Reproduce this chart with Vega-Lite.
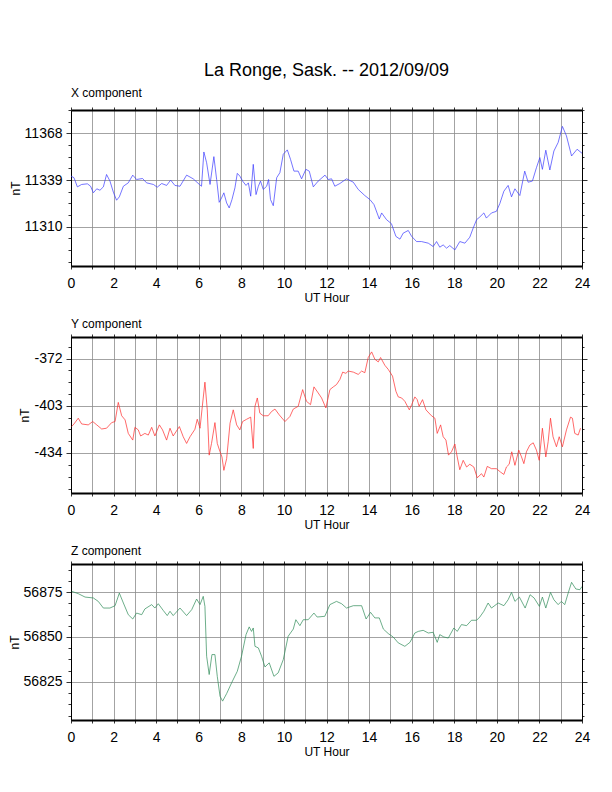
{
  "$schema": "https://vega.github.io/schema/vega-lite/v6.json",
  "title": {"text": "La Ronge, Sask. -- 2012/09/09", "fontSize": 18, "fontWeight": "normal", "anchor": "middle", "frame": "group", "offset": 7, "color": "black"},
  "padding": {"left": 7, "top": 61, "right": 10, "bottom": 10},
  "config": {
    "font": "Liberation Sans",
    "view": {"stroke": "black", "strokeWidth": 1},
    "axis": {
      "labelColor": "black", "labelFontSize": 14, "labelFlush": false, "labelOverlap": false,
      "titleFontWeight": "normal", "titleFontSize": 12, "titleColor": "black",
      "domainColor": "black", "tickColor": "#333333", "gridColor": "#8c8c8c", "gridWidth": 0.8
    },
    "title": {"fontWeight": "normal", "color": "black"}
  },
  "datasets": {
    "bx": [
      {"h":0,"nT":11341.5},{"h":0.14,"nT":11340.5},{"h":0.3,"nT":11334.8},{"h":0.5,"nT":11336.3},{"h":0.77,"nT":11336.7},{"h":0.92,"nT":11335.2},{"h":1.05,"nT":11331.1},{"h":1.21,"nT":11333.6},{"h":1.36,"nT":11332.7},{"h":1.52,"nT":11334.8},{"h":1.67,"nT":11342.5},{"h":1.83,"nT":11338.4},{"h":1.99,"nT":11331.5},{"h":2.14,"nT":11326.5},{"h":2.27,"nT":11328.6},{"h":2.46,"nT":11335.2},{"h":2.69,"nT":11337.3},{"h":2.9,"nT":11342.1},{"h":3.08,"nT":11339.4},{"h":3.36,"nT":11340.0},{"h":3.55,"nT":11337.3},{"h":3.87,"nT":11336.3},{"h":4.05,"nT":11334.6},{"h":4.26,"nT":11336.9},{"h":4.49,"nT":11335.7},{"h":4.68,"nT":11339.0},{"h":4.88,"nT":11335.7},{"h":5.12,"nT":11335.2},{"h":5.43,"nT":11342.1},{"h":5.74,"nT":11339.8},{"h":6.03,"nT":11336.3},{"h":6.13,"nT":11335.2},{"h":6.24,"nT":11356.5},{"h":6.37,"nT":11349.8},{"h":6.53,"nT":11336.3},{"h":6.71,"nT":11353.6},{"h":6.84,"nT":11339.4},{"h":6.96,"nT":11325.2},{"h":7.07,"nT":11327.9},{"h":7.18,"nT":11331.1},{"h":7.31,"nT":11324.8},{"h":7.43,"nT":11321.7},{"h":7.56,"nT":11326.9},{"h":7.7,"nT":11334.2},{"h":7.81,"nT":11343.2},{"h":7.93,"nT":11341.5},{"h":8.06,"nT":11338.4},{"h":8.22,"nT":11335.7},{"h":8.33,"nT":11337.3},{"h":8.44,"nT":11329.0},{"h":8.56,"nT":11348.8},{"h":8.69,"nT":11330.0},{"h":8.8,"nT":11335.2},{"h":8.9,"nT":11338.4},{"h":9.03,"nT":11333.2},{"h":9.19,"nT":11335.2},{"h":9.28,"nT":11339.4},{"h":9.37,"nT":11326.9},{"h":9.5,"nT":11323.1},{"h":9.66,"nT":11340.5},{"h":9.81,"nT":11343.6},{"h":9.97,"nT":11355.1},{"h":10.16,"nT":11357.8},{"h":10.31,"nT":11351.9},{"h":10.47,"nT":11344.6},{"h":10.67,"nT":11344.6},{"h":10.83,"nT":11339.8},{"h":11.03,"nT":11345.7},{"h":11.19,"nT":11344.6},{"h":11.38,"nT":11334.8},{"h":11.61,"nT":11338.4},{"h":11.93,"nT":11342.1},{"h":12.08,"nT":11339.4},{"h":12.24,"nT":11339.8},{"h":12.39,"nT":11335.2},{"h":12.63,"nT":11336.9},{"h":12.94,"nT":11339.8},{"h":13.26,"nT":11337.7},{"h":13.49,"nT":11333.2},{"h":13.8,"nT":11329.4},{"h":14.04,"nT":11326.9},{"h":14.23,"nT":11323.8},{"h":14.48,"nT":11314.8},{"h":14.59,"nT":11318.6},{"h":14.82,"nT":11314.4},{"h":15.05,"nT":11311.9},{"h":15.26,"nT":11304.0},{"h":15.45,"nT":11302.3},{"h":15.6,"nT":11306.0},{"h":15.84,"nT":11307.7},{"h":16.0,"nT":11304.0},{"h":16.23,"nT":11300.8},{"h":16.46,"nT":11300.8},{"h":16.78,"nT":11299.8},{"h":17.01,"nT":11297.7},{"h":17.17,"nT":11300.8},{"h":17.32,"nT":11297.3},{"h":17.48,"nT":11298.7},{"h":17.64,"nT":11296.7},{"h":17.79,"nT":11298.3},{"h":18.03,"nT":11295.6},{"h":18.26,"nT":11300.8},{"h":18.5,"nT":11299.8},{"h":18.73,"nT":11303.5},{"h":18.89,"nT":11309.2},{"h":19.05,"nT":11314.4},{"h":19.2,"nT":11316.1},{"h":19.39,"nT":11318.6},{"h":19.51,"nT":11315.4},{"h":19.75,"nT":11318.6},{"h":19.98,"nT":11319.6},{"h":20.14,"nT":11324.4},{"h":20.33,"nT":11332.1},{"h":20.53,"nT":11335.7},{"h":20.69,"nT":11328.6},{"h":20.85,"nT":11333.6},{"h":21.08,"nT":11329.4},{"h":21.31,"nT":11344.6},{"h":21.47,"nT":11337.7},{"h":21.67,"nT":11338.4},{"h":21.86,"nT":11346.7},{"h":22.02,"nT":11353.0},{"h":22.14,"nT":11345.7},{"h":22.3,"nT":11357.6},{"h":22.49,"nT":11345.3},{"h":22.68,"nT":11357.1},{"h":22.88,"nT":11362.4},{"h":23.08,"nT":11372.4},{"h":23.27,"nT":11366.5},{"h":23.51,"nT":11354.0},{"h":23.77,"nT":11358.2},{"h":24,"nT":11355.7}
    ],
    "by": [
      {"h":0.03,"nT":-416.7},{"h":0.14,"nT":-415.0},{"h":0.34,"nT":-411.2},{"h":0.5,"nT":-415.0},{"h":0.81,"nT":-415.6},{"h":1.02,"nT":-413.4},{"h":1.21,"nT":-415.6},{"h":1.44,"nT":-418.3},{"h":1.67,"nT":-417.8},{"h":1.91,"nT":-414.1},{"h":2.07,"nT":-413.4},{"h":2.22,"nT":-400.8},{"h":2.38,"nT":-409.6},{"h":2.54,"nT":-412.3},{"h":2.69,"nT":-421.2},{"h":2.9,"nT":-425.6},{"h":3.0,"nT":-417.2},{"h":3.16,"nT":-418.9},{"h":3.27,"nT":-422.9},{"h":3.47,"nT":-421.2},{"h":3.63,"nT":-422.3},{"h":3.79,"nT":-417.2},{"h":3.94,"nT":-422.9},{"h":4.15,"nT":-415.6},{"h":4.3,"nT":-418.9},{"h":4.49,"nT":-425.6},{"h":4.65,"nT":-417.8},{"h":4.8,"nT":-422.9},{"h":5.09,"nT":-416.7},{"h":5.27,"nT":-423.4},{"h":5.43,"nT":-427.8},{"h":5.59,"nT":-423.4},{"h":5.82,"nT":-418.5},{"h":5.93,"nT":-411.9},{"h":6.06,"nT":-417.8},{"h":6.15,"nT":-405.7},{"h":6.29,"nT":-387.5},{"h":6.4,"nT":-405.7},{"h":6.49,"nT":-435.5},{"h":6.6,"nT":-427.8},{"h":6.76,"nT":-414.1},{"h":6.87,"nT":-427.8},{"h":7.0,"nT":-433.3},{"h":7.09,"nT":-436.7},{"h":7.18,"nT":-445.5},{"h":7.31,"nT":-437.8},{"h":7.47,"nT":-414.5},{"h":7.62,"nT":-405.7},{"h":7.78,"nT":-415.6},{"h":7.93,"nT":-418.9},{"h":8.06,"nT":-413.4},{"h":8.25,"nT":-411.9},{"h":8.44,"nT":-410.5},{"h":8.56,"nT":-431.1},{"h":8.64,"nT":-403.4},{"h":8.75,"nT":-397.9},{"h":8.87,"nT":-407.9},{"h":9.03,"nT":-409.6},{"h":9.26,"nT":-409.6},{"h":9.42,"nT":-406.8},{"h":9.58,"nT":-405.2},{"h":9.78,"nT":-409.0},{"h":10.05,"nT":-413.4},{"h":10.28,"nT":-410.1},{"h":10.44,"nT":-405.2},{"h":10.67,"nT":-403.4},{"h":10.88,"nT":-392.4},{"h":11.06,"nT":-400.1},{"h":11.25,"nT":-402.3},{"h":11.41,"nT":-390.6},{"h":11.61,"nT":-394.6},{"h":11.77,"nT":-397.9},{"h":11.97,"nT":-404.5},{"h":12.16,"nT":-392.4},{"h":12.32,"nT":-390.6},{"h":12.47,"nT":-389.1},{"h":12.63,"nT":-385.7},{"h":12.76,"nT":-380.9},{"h":12.91,"nT":-381.7},{"h":13.02,"nT":-380.2},{"h":13.26,"nT":-380.9},{"h":13.49,"nT":-382.4},{"h":13.65,"nT":-380.2},{"h":13.8,"nT":-381.3},{"h":13.96,"nT":-371.3},{"h":14.12,"nT":-367.6},{"h":14.27,"nT":-372.4},{"h":14.43,"nT":-374.2},{"h":14.54,"nT":-371.3},{"h":14.74,"nT":-376.4},{"h":14.9,"nT":-379.1},{"h":15.1,"nT":-383.5},{"h":15.26,"nT":-393.5},{"h":15.37,"nT":-397.2},{"h":15.53,"nT":-397.9},{"h":15.68,"nT":-400.1},{"h":15.89,"nT":-405.7},{"h":16.0,"nT":-402.3},{"h":16.15,"nT":-397.2},{"h":16.26,"nT":-399.0},{"h":16.35,"nT":-403.4},{"h":16.51,"nT":-399.0},{"h":16.67,"nT":-405.7},{"h":16.93,"nT":-409.6},{"h":17.09,"nT":-411.2},{"h":17.2,"nT":-421.2},{"h":17.36,"nT":-415.6},{"h":17.48,"nT":-423.4},{"h":17.61,"nT":-425.6},{"h":17.73,"nT":-435.5},{"h":17.87,"nT":-433.3},{"h":18.03,"nT":-428.2},{"h":18.14,"nT":-436.7},{"h":18.26,"nT":-445.1},{"h":18.42,"nT":-438.9},{"h":18.58,"nT":-443.3},{"h":18.73,"nT":-441.5},{"h":18.92,"nT":-443.3},{"h":19.08,"nT":-450.4},{"h":19.28,"nT":-447.7},{"h":19.39,"nT":-449.9},{"h":19.55,"nT":-442.9},{"h":19.75,"nT":-444.4},{"h":19.98,"nT":-444.4},{"h":20.17,"nT":-446.6},{"h":20.33,"nT":-448.2},{"h":20.45,"nT":-443.3},{"h":20.58,"nT":-441.5},{"h":20.7,"nT":-433.3},{"h":20.85,"nT":-442.2},{"h":21.03,"nT":-432.2},{"h":21.16,"nT":-436.7},{"h":21.27,"nT":-441.1},{"h":21.39,"nT":-433.3},{"h":21.55,"nT":-428.9},{"h":21.71,"nT":-427.4},{"h":21.86,"nT":-432.2},{"h":21.99,"nT":-438.9},{"h":22.14,"nT":-417.8},{"h":22.3,"nT":-436.7},{"h":22.41,"nT":-426.7},{"h":22.52,"nT":-411.2},{"h":22.64,"nT":-423.4},{"h":22.8,"nT":-430.0},{"h":22.93,"nT":-423.4},{"h":23.08,"nT":-430.0},{"h":23.27,"nT":-418.9},{"h":23.46,"nT":-410.5},{"h":23.55,"nT":-411.2},{"h":23.66,"nT":-421.2},{"h":23.82,"nT":-422.3},{"h":23.93,"nT":-417.8}
    ],
    "bz": [
      {"h":0.03,"nT":56875.4},{"h":0.34,"nT":56874.1},{"h":0.66,"nT":56872.2},{"h":1.05,"nT":56871.7},{"h":1.28,"nT":56869.8},{"h":1.52,"nT":56866.1},{"h":1.83,"nT":56866.1},{"h":2.07,"nT":56867.4},{"h":2.27,"nT":56874.4},{"h":2.46,"nT":56868.9},{"h":2.69,"nT":56862.4},{"h":2.9,"nT":56860.0},{"h":3.08,"nT":56863.3},{"h":3.32,"nT":56862.4},{"h":3.47,"nT":56865.6},{"h":3.79,"nT":56868.0},{"h":3.94,"nT":56866.1},{"h":4.1,"nT":56868.5},{"h":4.33,"nT":56864.8},{"h":4.52,"nT":56861.9},{"h":4.65,"nT":56864.3},{"h":4.8,"nT":56861.9},{"h":5.12,"nT":56866.1},{"h":5.43,"nT":56861.9},{"h":5.67,"nT":56865.2},{"h":5.9,"nT":56871.1},{"h":6.06,"nT":56868.0},{"h":6.21,"nT":56872.6},{"h":6.29,"nT":56867.0},{"h":6.37,"nT":56839.3},{"h":6.49,"nT":56829.1},{"h":6.62,"nT":56840.2},{"h":6.76,"nT":56840.2},{"h":6.87,"nT":56828.1},{"h":7.0,"nT":56817.0},{"h":7.12,"nT":56814.3},{"h":7.31,"nT":56818.5},{"h":7.54,"nT":56824.4},{"h":7.81,"nT":56830.9},{"h":8.01,"nT":56839.3},{"h":8.22,"nT":56851.3},{"h":8.37,"nT":56855.6},{"h":8.48,"nT":56853.1},{"h":8.56,"nT":56855.0},{"h":8.64,"nT":56844.8},{"h":8.8,"nT":56843.9},{"h":8.95,"nT":56839.3},{"h":9.11,"nT":56833.3},{"h":9.31,"nT":56835.6},{"h":9.53,"nT":56828.1},{"h":9.73,"nT":56830.0},{"h":9.97,"nT":56837.4},{"h":10.2,"nT":56850.4},{"h":10.44,"nT":56854.4},{"h":10.56,"nT":56859.6},{"h":10.75,"nT":56856.3},{"h":10.91,"nT":56859.6},{"h":11.14,"nT":56859.6},{"h":11.41,"nT":56863.3},{"h":11.56,"nT":56861.1},{"h":11.92,"nT":56861.5},{"h":12.16,"nT":56868.0},{"h":12.47,"nT":56869.8},{"h":12.71,"nT":56868.5},{"h":12.94,"nT":56866.1},{"h":13.26,"nT":56867.4},{"h":13.65,"nT":56867.4},{"h":13.86,"nT":56860.0},{"h":14.07,"nT":56863.7},{"h":14.27,"nT":56860.6},{"h":14.48,"nT":56860.6},{"h":14.67,"nT":56854.4},{"h":14.9,"nT":56851.9},{"h":15.13,"nT":56850.0},{"h":15.37,"nT":56846.7},{"h":15.68,"nT":56844.8},{"h":15.92,"nT":56847.0},{"h":16.15,"nT":56852.2},{"h":16.31,"nT":56853.1},{"h":16.54,"nT":56853.7},{"h":16.78,"nT":56852.2},{"h":17.01,"nT":56852.6},{"h":17.2,"nT":56847.0},{"h":17.32,"nT":56851.3},{"h":17.51,"nT":56850.0},{"h":17.72,"nT":56849.4},{"h":17.98,"nT":56855.0},{"h":18.14,"nT":56853.1},{"h":18.34,"nT":56856.9},{"h":18.58,"nT":56856.3},{"h":18.81,"nT":56859.3},{"h":19.05,"nT":56859.3},{"h":19.2,"nT":56861.1},{"h":19.39,"nT":56864.3},{"h":19.59,"nT":56868.9},{"h":19.75,"nT":56866.1},{"h":20.06,"nT":56868.9},{"h":20.33,"nT":56867.4},{"h":20.53,"nT":56870.7},{"h":20.69,"nT":56874.8},{"h":20.85,"nT":56869.8},{"h":21.06,"nT":56872.2},{"h":21.33,"nT":56866.1},{"h":21.56,"nT":56873.5},{"h":21.75,"nT":56871.7},{"h":22.0,"nT":56867.0},{"h":22.14,"nT":56872.2},{"h":22.3,"nT":56866.1},{"h":22.52,"nT":56874.8},{"h":22.68,"nT":56870.7},{"h":22.88,"nT":56868.0},{"h":23.03,"nT":56869.8},{"h":23.19,"nT":56868.0},{"h":23.35,"nT":56874.4},{"h":23.51,"nT":56880.4},{"h":23.71,"nT":56876.7},{"h":23.9,"nT":56876.3},{"h":24,"nT":56878.1}
    ]
  },
  "spacing": 71,
  "bounds": "flush",
  "vconcat": [
    {
      "title": {"text": "X component", "anchor": "start", "frame": "group", "fontSize": 12, "offset": 3},
      "width": 511,
      "height": 156,
      "data": {"name": "bx"},
      "layer": [
        {
          "mark": {"type": "line", "color": "#3a3aff", "strokeWidth": 0.7, "clip": true},
          "encoding": {
            "x": {"field": "h", "type": "quantitative", "scale": {"domain": [0, 24], "nice": false},
              "axis": {"orient": "bottom", "values": [0,1,2,3,4,5,6,7,8,9,10,11,12,13,14,15,16,17,18,19,20,21,22,23,24], "labelExpr": "datum.value % 2 == 0 ? '' + datum.value : ''", "tickSize": 3, "labelPadding": 7, "title": "UT Hour", "titlePadding": 2, "grid": true, "domainWidth": 1.8}},
            "y": {"field": "nT", "type": "quantitative", "scale": {"domain": [11285.6, 11382.6], "nice": false, "zero": false},
              "axis": {"orient": "left", "values": [11288.25,11295.5,11302.75,11310,11317.25,11324.5,11331.75,11339,11346.25,11353.5,11360.75,11368,11375.25,11382.5], "labelExpr": "datum.value % 29 == 0 ? '' + datum.value : ''", "tickSize": {"condition": {"test": "datum.value % 29 == 0", "value": 5}, "value": 3}, "gridOpacity": {"condition": {"test": "datum.value % 29 == 0", "value": 1}, "value": 0}, "labelPadding": 4, "title": "nT", "titlePadding": 2, "grid": true, "domainWidth": 1}}
          }
        },
        {
          "mark": {"type": "line", "strokeOpacity": 0},
          "encoding": {
            "x": {"field": "h", "type": "quantitative", "scale": {"domain": [0, 24], "nice": false},
              "axis": {"orient": "top", "values": [0,1,2,3,4,5,6,7,8,9,10,11,12,13,14,15,16,17,18,19,20,21,22,23,24], "labels": false, "tickSize": 3, "title": null, "grid": false, "domainWidth": 1.8}},
            "y": {"field": "nT", "type": "quantitative", "scale": {"domain": [11285.6, 11382.6], "nice": false, "zero": false},
              "axis": {"orient": "right", "values": [11288.25,11295.5,11302.75,11310,11317.25,11324.5,11331.75,11339,11346.25,11353.5,11360.75,11368,11375.25,11382.5], "labels": false, "tickSize": {"condition": {"test": "datum.value % 29 == 0", "value": 5}, "value": 2}, "title": null, "grid": false, "domainWidth": 1}}
          }
        }
      ],
      "resolve": {"axis": {"x": "independent", "y": "independent"}}
    },
    {
      "title": {"text": "Y component", "anchor": "start", "frame": "group", "fontSize": 12, "offset": 3},
      "width": 511,
      "height": 156,
      "data": {"name": "by"},
      "layer": [
        {
          "mark": {"type": "line", "color": "#ff2a2a", "strokeWidth": 0.7, "clip": true},
          "encoding": {
            "x": {"field": "h", "type": "quantitative", "scale": {"domain": [0, 24], "nice": false},
              "axis": {"orient": "bottom", "values": [0,1,2,3,4,5,6,7,8,9,10,11,12,13,14,15,16,17,18,19,20,21,22,23,24], "labelExpr": "datum.value % 2 == 0 ? '' + datum.value : ''", "tickSize": 3, "labelPadding": 7, "title": "UT Hour", "titlePadding": 2, "grid": true, "domainWidth": 1.8}},
            "y": {"field": "nT", "type": "quantitative", "scale": {"domain": [-460.4, -357.8], "nice": false, "zero": false},
              "axis": {"orient": "left", "values": [-457.75,-450,-442.25,-434,-426.25,-418.5,-410.75,-403,-395.25,-387.5,-379.75,-372,-364.25], "labelExpr": "datum.value % 31 == 0 ? '' + datum.value : ''", "tickSize": {"condition": {"test": "datum.value % 31 == 0", "value": 5}, "value": 3}, "gridOpacity": {"condition": {"test": "datum.value % 31 == 0", "value": 1}, "value": 0}, "labelPadding": 4, "title": "nT", "titlePadding": 2, "grid": true, "domainWidth": 1}}
          }
        },
        {
          "mark": {"type": "line", "strokeOpacity": 0},
          "encoding": {
            "x": {"field": "h", "type": "quantitative", "scale": {"domain": [0, 24], "nice": false},
              "axis": {"orient": "top", "values": [0,1,2,3,4,5,6,7,8,9,10,11,12,13,14,15,16,17,18,19,20,21,22,23,24], "labels": false, "tickSize": 3, "title": null, "grid": false, "domainWidth": 1.8}},
            "y": {"field": "nT", "type": "quantitative", "scale": {"domain": [-460.4, -357.8], "nice": false, "zero": false},
              "axis": {"orient": "right", "values": [-457.75,-450,-442.25,-434,-426.25,-418.5,-410.75,-403,-395.25,-387.5,-379.75,-372,-364.25], "labels": false, "tickSize": {"condition": {"test": "datum.value % 31 == 0", "value": 5}, "value": 2}, "title": null, "grid": false, "domainWidth": 1}}
          }
        }
      ],
      "resolve": {"axis": {"x": "independent", "y": "independent"}}
    },
    {
      "title": {"text": "Z component", "anchor": "start", "frame": "group", "fontSize": 12, "offset": 3},
      "width": 511,
      "height": 156,
      "data": {"name": "bz"},
      "layer": [
        {
          "mark": {"type": "line", "color": "#2e8b57", "strokeWidth": 0.7, "clip": true},
          "encoding": {
            "x": {"field": "h", "type": "quantitative", "scale": {"domain": [0, 24], "nice": false},
              "axis": {"orient": "bottom", "values": [0,1,2,3,4,5,6,7,8,9,10,11,12,13,14,15,16,17,18,19,20,21,22,23,24], "labelExpr": "datum.value % 2 == 0 ? '' + datum.value : ''", "tickSize": 3, "labelPadding": 7, "title": "UT Hour", "titlePadding": 2, "grid": true, "domainWidth": 1.8}},
            "y": {"field": "nT", "type": "quantitative", "scale": {"domain": [56803.8, 56890.6], "nice": false, "zero": false},
              "axis": {"orient": "left", "values": [56806.25,56812.5,56818.75,56825,56831.25,56837.5,56843.75,56850,56856.25,56862.5,56868.75,56875,56881.25,56887.5], "labelExpr": "datum.value % 25 == 0 ? '' + datum.value : ''", "tickSize": {"condition": {"test": "datum.value % 25 == 0", "value": 5}, "value": 3}, "gridOpacity": {"condition": {"test": "datum.value % 25 == 0", "value": 1}, "value": 0}, "labelPadding": 4, "title": "nT", "titlePadding": 2, "grid": true, "domainWidth": 1}}
          }
        },
        {
          "mark": {"type": "line", "strokeOpacity": 0},
          "encoding": {
            "x": {"field": "h", "type": "quantitative", "scale": {"domain": [0, 24], "nice": false},
              "axis": {"orient": "top", "values": [0,1,2,3,4,5,6,7,8,9,10,11,12,13,14,15,16,17,18,19,20,21,22,23,24], "labels": false, "tickSize": 3, "title": null, "grid": false, "domainWidth": 1.8}},
            "y": {"field": "nT", "type": "quantitative", "scale": {"domain": [56803.8, 56890.6], "nice": false, "zero": false},
              "axis": {"orient": "right", "values": [56806.25,56812.5,56818.75,56825,56831.25,56837.5,56843.75,56850,56856.25,56862.5,56868.75,56875,56881.25,56887.5], "labels": false, "tickSize": {"condition": {"test": "datum.value % 25 == 0", "value": 5}, "value": 2}, "title": null, "grid": false, "domainWidth": 1}}
          }
        }
      ],
      "resolve": {"axis": {"x": "independent", "y": "independent"}}
    }
  ]
}
